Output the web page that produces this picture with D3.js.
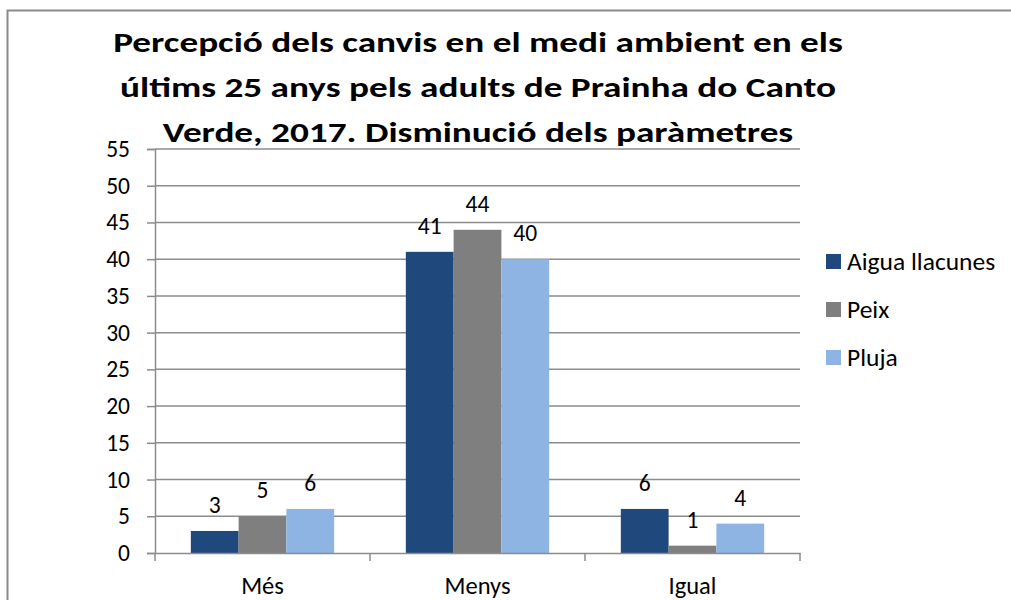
<!DOCTYPE html>
<html>
<head>
<meta charset="utf-8">
<script src="https://cdn.jsdelivr.net/npm/d3@7"></script>
<style>
  body { margin: 0; background: #fff; }
  svg { display: block; }
  text { font-family: Carlito, Calibri, Lato, sans-serif; fill: #000; }
</style>
</head>
<body>
<div id="chart"></div>
<script>
// chart data
const categories = ['Més', 'Menys', 'Igual'];
const seriesNames = ['Aigua llacunes', 'Peix', 'Pluja'];
const aiguaLlacunes = [3, 41, 6];
const peix = [5, 44, 1];
const pluja = [6, 40, 4];
const yTicks = [0, 5, 10, 15, 20, 25, 30, 35, 40, 45, 50, 55];
const titleLines = [
  'Percepció dels canvis en el medi ambient en els',
  'últims 25 anys pels adults de Prainha do Canto',
  'Verde, 2017. Disminució dels paràmetres'
];

const width = 1011;
const height = 600;
const colors = ['#1f497d', '#7f7f7f', '#8eb4e3'];
const values = [aiguaLlacunes, peix, pluja];

const svg = d3.select('#chart').append('svg')
  .attr('width', width)
  .attr('height', height);

// outer frame
svg.append('rect')
  .attr('x', 7.5).attr('y', 10.5)
  .attr('width', 1010).attr('height', 600)
  .attr('fill', 'none')
  .attr('stroke', '#8a8a8a')
  .attr('stroke-width', 2);

const plot = { left: 155, right: 800, top: 149, bottom: 553 };

const x0 = d3.scaleBand().domain(categories).range([plot.left, plot.right]);
const x1 = d3.scaleBand().domain(seriesNames).range([0, x0.bandwidth()]).paddingOuter(0.75);
const y = d3.scaleLinear().domain([0, 55]).range([plot.bottom, plot.top]);

// gridlines
svg.append('g')
  .selectAll('line')
  .data(yTicks.filter(d => d > 0))
  .join('line')
  .attr('x1', plot.left).attr('x2', plot.right)
  .attr('y1', d => y(d)).attr('y2', d => y(d))
  .attr('stroke', '#8c8c8c')
  .attr('stroke-width', 1.5);

// bars
const rows = categories.map((c, i) => seriesNames.map((s, j) => ({ cat: c, ser: s, v: values[j][i], j })));
const groups = svg.append('g')
  .selectAll('g')
  .data(rows)
  .join('g')
  .attr('transform', (d, i) => `translate(${x0(categories[i])},0)`);

groups.selectAll('rect')
  .data(d => d)
  .join('rect')
  .attr('x', d => x1(d.ser))
  .attr('width', x1.bandwidth())
  .attr('y', d => y(d.v))
  .attr('height', d => y(0) - y(d.v))
  .attr('fill', d => colors[d.j]);

groups.selectAll('text')
  .data(d => d)
  .join('text')
  .attr('x', d => x1(d.ser) + x1.bandwidth() / 2)
  .attr('y', d => y(d.v) - 18)
  .attr('text-anchor', 'middle')
  .style('font-size', '23.5px')
  .text(d => d.v);

// y axis
const yAxis = svg.append('g')
  .attr('transform', `translate(${plot.left},0)`)
  .call(d3.axisLeft(y).tickValues(yTicks).tickSize(8).tickPadding(17));
yAxis.select('.domain').attr('stroke', '#8c8c8c').attr('stroke-width', 1.5);
yAxis.selectAll('.tick line').attr('stroke', '#8c8c8c').attr('stroke-width', 1.5);
yAxis.selectAll('.tick text')
  .style('font-size', '23.5px')
  .style('font-family', 'Carlito, Calibri, Lato, sans-serif')
  .attr('fill', '#000');

// x axis
const xAxis = svg.append('g')
  .attr('transform', `translate(0,${plot.bottom})`)
  .call(d3.axisBottom(x0).tickSize(0).tickPadding(24));
xAxis.select('.domain').attr('stroke', '#8c8c8c').attr('stroke-width', 1.5);
xAxis.selectAll('.tick text')
  .style('font-size', '24.5px')
  .style('font-family', 'Carlito, Calibri, Lato, sans-serif')
  .attr('fill', '#000');
// category separators
xAxis.append('g')
  .selectAll('line')
  .data(categories.map(c => x0(c)).concat([plot.right]))
  .join('line')
  .attr('x1', d => d).attr('x2', d => d)
  .attr('y1', 0).attr('y2', 8)
  .attr('stroke', '#8c8c8c')
  .attr('stroke-width', 1.5);

// legend
const legend = svg.append('g').attr('transform', 'translate(826,254)');
const li = legend.selectAll('g')
  .data(seriesNames)
  .join('g')
  .attr('transform', (d, i) => `translate(0,${i * 48})`);
li.append('rect')
  .attr('width', 15).attr('height', 15)
  .attr('fill', (d, i) => colors[i]);
li.append('text')
  .attr('x', 21).attr('y', 16)
  .style('font-size', '25.5px')
  .text(d => d);

// title, stretched horizontally to the width of the original
const titles = svg.append('g')
  .selectAll('text')
  .data(titleLines)
  .join('text')
  .attr('text-anchor', 'middle')
  .style('font-size', '29px')
  .style('font-weight', 'bold')
  .text(d => d);
const k = 730 / titles.node().getComputedTextLength();
titles.attr('transform', (d, i) => `translate(478,${52 + i * 45}) scale(${k},1)`);
</script>
</body>
</html>
